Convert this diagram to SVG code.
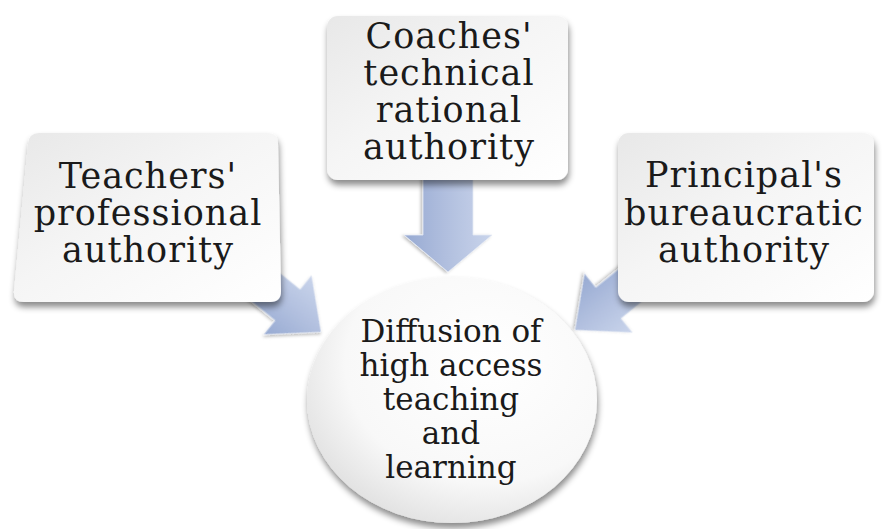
<svg xmlns="http://www.w3.org/2000/svg" width="882" height="529" viewBox="0 0 882 529">
  <defs>
    <linearGradient id="boxFill" x1="0" y1="0" x2="1" y2="1">
      <stop offset="0" stop-color="#e8e8e8"/>
      <stop offset="0.45" stop-color="#f5f5f5"/>
      <stop offset="1" stop-color="#ffffff"/>
    </linearGradient>
    <radialGradient id="circFill" cx="0.62" cy="0.35" r="0.75">
      <stop offset="0" stop-color="#ffffff"/>
      <stop offset="0.65" stop-color="#f8f8f8"/>
      <stop offset="1" stop-color="#dcdcdc"/>
    </radialGradient>
    <linearGradient id="arrowFill" x1="0" y1="0" x2="0" y2="1">
      <stop offset="0" stop-color="#c9d4eb"/>
      <stop offset="0.5" stop-color="#b2c0df"/>
      <stop offset="1" stop-color="#97aad2"/>
    </linearGradient>
    <filter id="shadow" x="-10%" y="-10%" width="125%" height="130%">
      <feDropShadow dx="1" dy="5" stdDeviation="3" flood-color="#000" flood-opacity="0.45"/>
    </filter>
    <filter id="ashadow" x="-20%" y="-20%" width="140%" height="140%">
      <feDropShadow dx="1" dy="2" stdDeviation="1.5" flood-color="#000" flood-opacity="0.25"/>
    </filter>
  </defs>
  <style>
    .box { fill: url(#boxFill); filter: url(#shadow); }
    .circ { fill: url(#circFill); filter: url(#shadow); }
    .arrow { fill: url(#arrowFill); stroke: #e6ebf5; stroke-width: 0.8; filter: url(#ashadow); }
    .lbl { font-family: "DejaVu Serif", "Liberation Serif", serif; font-size: 35px; letter-spacing: 1px; fill: #1a1a1a; text-anchor: middle; }
    .clbl { font-family: "DejaVu Serif", "Liberation Serif", serif; font-size: 31px; fill: #1a1a1a; text-anchor: middle; }
  </style>
  <rect width="882" height="529" fill="#ffffff"/>

  <g id="connectors">
    <!-- down arrow from Coaches' box -->
    <path class="arrow" transform="translate(448,272) rotate(90)" d="M -100 -25 L -37 -25 L -37 -44 L 0 0 L -37 44 L -37 25 L -100 25 Z"/>
    <!-- arrow from Teachers' box -->
    <path class="arrow" transform="translate(321,332) rotate(39)" d="M -120 -20 L -43 -20 L -43 -38 L 0 0 L -43 38 L -43 20 L -120 20 Z"/>
    <!-- arrow from Principal's box -->
    <path class="arrow" transform="translate(575,330) rotate(141)" d="M -120 -20 L -43 -20 L -43 -38 L 0 0 L -43 38 L -43 20 L -120 20 Z"/>
  </g>

  <g id="node-teachers">
    <path class="box" d="M 39 133 L 267 133 Q 278 133 278 144 L 281 291 Q 281 302 270 302 L 24 302 Q 13 302 14 291 L 28 144 Q 29 133 39 133 Z"/>
    <text class="lbl" x="148" y="188">Teachers'</text>
    <text class="lbl" x="148" y="225">professional</text>
    <text class="lbl" x="148" y="262">authority</text>
  </g>

  <g id="node-coaches">
    <rect class="box" x="327" y="16" width="241" height="164" rx="11" ry="11"/>
    <text class="lbl" x="449" y="48">Coaches'</text>
    <text class="lbl" x="449" y="85">technical</text>
    <text class="lbl" x="449" y="122">rational</text>
    <text class="lbl" x="449" y="159">authority</text>
  </g>

  <g id="node-principal">
    <rect class="box" x="618" y="133" width="256" height="169" rx="11" ry="11"/>
    <text class="lbl" x="744" y="187">Principal's</text>
    <text class="lbl" x="744" y="225">bureaucratic</text>
    <text class="lbl" x="744" y="262">authority</text>
  </g>

  <g id="node-diffusion">
    <ellipse class="circ" cx="452" cy="400" rx="145" ry="123"/>
    <text class="clbl" x="451" y="342">Diffusion of</text>
    <text class="clbl" x="451" y="376">high access</text>
    <text class="clbl" x="451" y="410">teaching</text>
    <text class="clbl" x="451" y="444">and</text>
    <text class="clbl" x="451" y="478">learning</text>
  </g>
</svg>
